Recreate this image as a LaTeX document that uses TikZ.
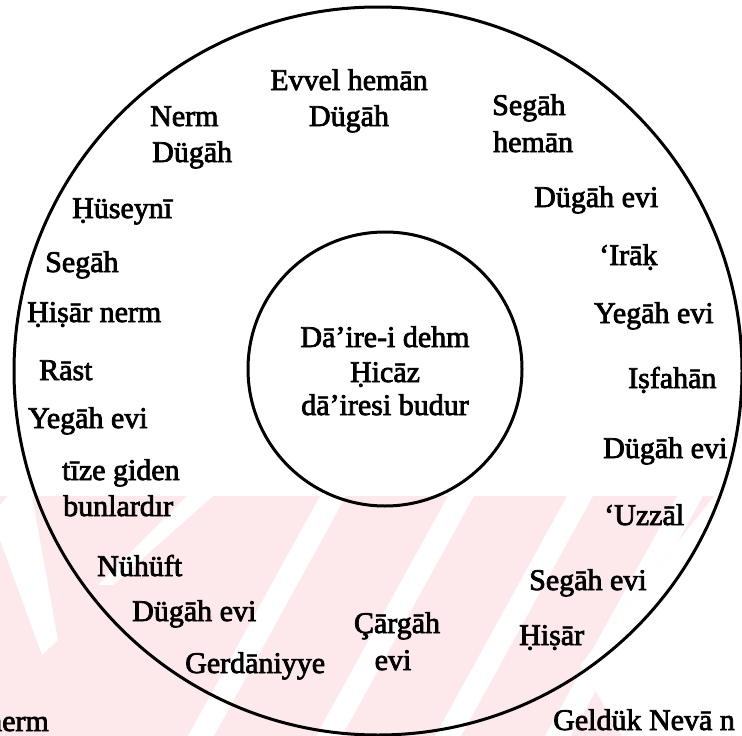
\documentclass[tikz,border=0pt]{standalone}
\usepackage{fontspec}
\setmainfont{Liberation Serif}
\newfontfamily\lblfont{Liberation Serif}[FakeBold=2.5]
\definecolor{wm}{RGB}{253,232,236}
\begin{document}
\begin{tikzpicture}[x=1pt,y=-1pt,
  lbl/.style={inner sep=0pt, font=\lblfont\fontsize{30}{36}\selectfont},
  lw/.style={lbl, anchor=base west},
  lc/.style={lbl, anchor=base},
  ring/.style={draw, circle, inner sep=0pt, line width=3pt},
  gap/.style={fill=white}]
\useasboundingbox (0,0) rectangle (742,736);
\begin{scope}
\clip (0,0) rectangle (742,736);
% faint watermark in the lower part
\begin{scope}
\clip (0,496) -- (714,496) -- (580,665) -- (622,736) -- (0,736) -- cycle;
\fill[wm] (0,496) rectangle (742,736);
% short stripe ending near Nuhuft
\fill[gap] (187,496) -- (213,496) -- (113,585) -- (98,585) -- cycle;
% long stripes
\foreach \x in {333,461,580,690}
  \fill[gap] (\x-13,496) -- (\x+13,496) -- ++(-0.55*260,260) -- ++(-26,0) -- cycle;
% left back-slanted stripe
\fill[gap] (8,496) -- (32,496) -- (58,640) -- (42,655) -- (0,540) -- (0,505) -- cycle;
\end{scope}
% circles
\node[ring, minimum size=728pt] (outer) at (378,371) {};
\node[ring, minimum size=274pt] (inner) at (385,369) {};
% inner text
\node[lc] (c1) at (385,347) {Dā’ire-i dehm};
\node[lc] (c2) at (385,382) {Ḥicāz};
\node[lc] (c3) at (385,415) {dā’iresi budur};
% ring labels
\node[lc] (evvel) at (349,90) {Evvel hemān};
\node[lc] (evvelb) at (349,126) {Dügāh};
\node[lw] (nerm) at (150,126) {Nerm};
\node[lw] (nermb) at (152,162) {Dügāh};
\node[lw] (huseyni) at (72,218) {Ḥüseynī};
\node[lw] (segahL) at (45,272) {Segāh};
\node[lw] (hisarnerm) at (27,322) {Ḥiṣār nerm};
\node[lw] (rast) at (39,380) {Rāst};
\node[lw] (yegahL) at (28,428) {Yegāh evi};
\node[lw] (tize) at (62,480) {tīze giden};
\node[lw] (tizeb) at (63,516) {bunlardır};
\node[lw] (nuhuft) at (97,576) {Nühüft};
\node[lw] (dugahLB) at (132,621) {Dügāh evi};
\node[lw] (gerdaniyye) at (185,673) {Gerdāniyye};
\node[lc] (cargah) at (397,633) {Çārgāh};
\node[lc] (cargahb) at (393,670) {evi};
\node[lw] (hisar) at (519,645) {Ḥiṣār};
\node[lw] (segahevi) at (529,590) {Segāh evi};
\node[lw] (uzzal) at (604,525) {‘Uzzāl};
\node[lw] (dugahR2) at (603,458) {Dügāh evi};
\node[lw] (isfahan) at (628,388) {Iṣfahān};
\node[lw] (yegahR) at (594,323) {Yegāh evi};
\node[lw] (irak) at (599,265) {‘Irāḳ};
\node[lw] (dugahR1) at (534,207) {Dügāh evi};
\node[lw] (segahR) at (492,115) {Segāh};
\node[lw] (segahRb) at (493,152) {hemān};
% cut-off text at the bottom, as in the reference
\node[lw] (nermB) at (-13,731) {nerm};
\node[lw] (geldik) at (553,730) {Geldük Nevā n};
\end{scope}
\end{tikzpicture}
\end{document}
